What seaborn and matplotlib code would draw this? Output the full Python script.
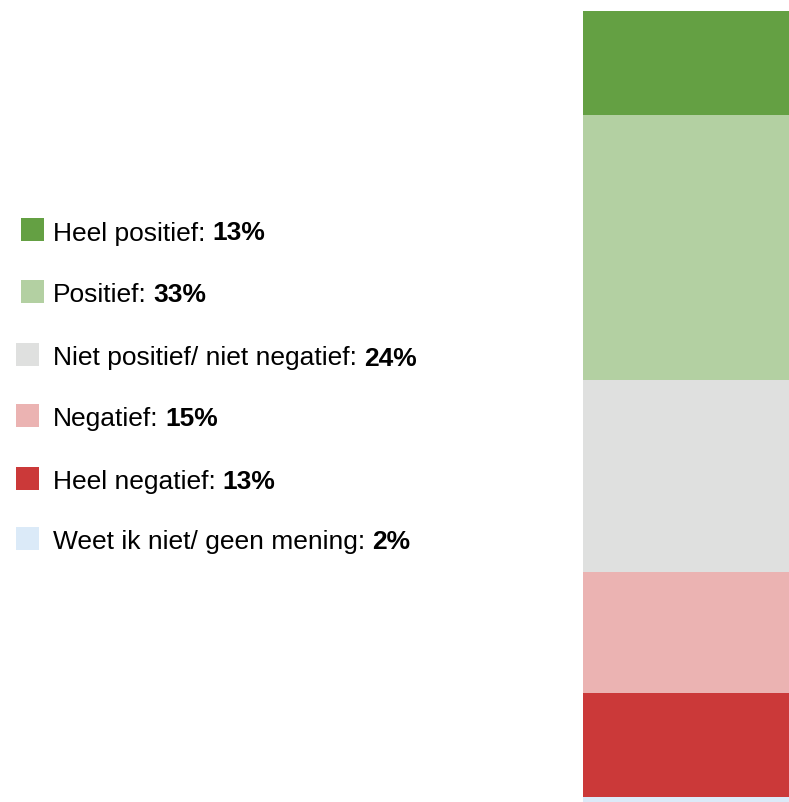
import seaborn as sns
import matplotlib.pyplot as plt
import pandas as pd
from matplotlib.patches import Rectangle

categories = ["Heel positief", "Positief", "Niet positief/ niet negatief",
              "Negatief", "Heel negatief", "Weet ik niet/ geen mening"]
values = [13, 33, 24, 15, 13, 2]
colors = ["#64a043", "#b3d0a2", "#dfe0df", "#ebb3b2", "#cb3939", "#dbeaf8"]

W, H = 789, 803


def fx(px):
    return px / W


def fy(py):
    return 1 - py / H


sns.set_style("white")
plt.rcParams['font.family'] = ['Liberation Sans', 'DejaVu Sans']

fig = plt.figure(figsize=(W / 100, H / 100), dpi=100)

# stacked bar: overlay cumulative bars, longest first
cum = pd.Series(values).cumsum().tolist()
ax = fig.add_axes([fx(583), 0, fx(W - 583 + 20), 1 - 12 / H])
for total, col in reversed(list(zip(cum, colors))):
    df = pd.DataFrame({'groep': ['totaal'], 'pct': [total]})
    sns.barplot(data=df, x='groep', y='pct', color=col, width=1.0,
                linewidth=0, saturation=1, ax=ax)
ax.set_xlim(-0.5, 0.5)
ax.set_ylim((H - 12) / 8.02, 0)
ax.axis('off')

# legend on the left, label normal + percentage bold
centers = [230.5, 292.5, 355.5, 416.5, 479, 539.5]
sq_left = [21, 21, 16, 16, 16, 16]
labels = []
for cat, val, col, cy, sx in zip(categories, values, colors, centers, sq_left):
    fig.add_artist(Rectangle((fx(sx), fy(cy + 11.5)), 23 / W, 23 / H,
                             transform=fig.transFigure, facecolor=col,
                             edgecolor='none'))
    t = fig.text(fx(53), fy(cy + 10), cat + ":", fontsize=19,
                 va='baseline', ha='left', color='black')
    labels.append((t, val, cy))

fig.canvas.draw()
renderer = fig.canvas.get_renderer()
for t, val, cy in labels:
    ext = t.get_window_extent(renderer)
    fig.text(fx(ext.x1 + 7), fy(cy + 10), f"{val}%", fontsize=19,
             fontweight='bold', va='baseline', ha='left', color='black')

plt.savefig('out.png', dpi=100)
